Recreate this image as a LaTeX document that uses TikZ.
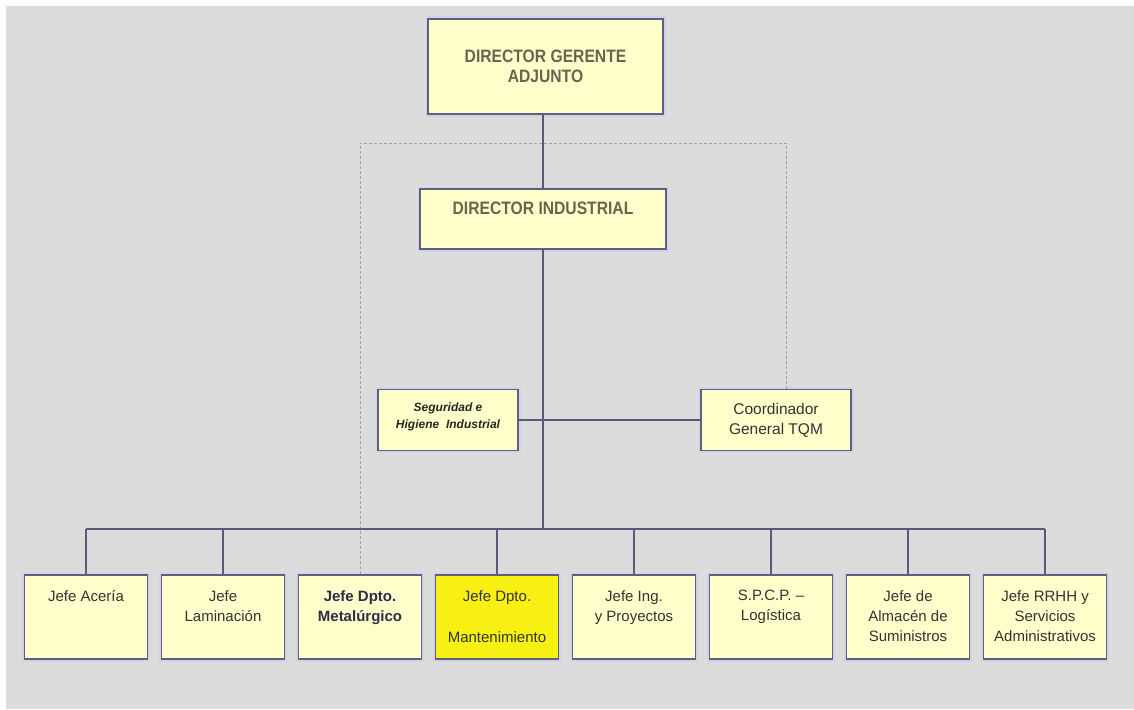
\documentclass[tikz,border=0pt]{standalone}
\usepackage{fontspec}
\setmainfont{Liberation Sans}
\newfontfamily\hdfont[FakeStretch=0.87]{Liberation Sans}
\definecolor{bg}{HTML}{DCDCDC}
\definecolor{boxfill}{HTML}{FFFFCC}
\definecolor{hifill}{HTML}{F8F012}
\definecolor{boxline}{HTML}{5F5F80}
\definecolor{connline}{HTML}{5A5A78}
\definecolor{dashline}{HTML}{A0A0A8}
\definecolor{glow}{HTML}{D2D2E6}
\definecolor{hdtext}{HTML}{66664F}
\definecolor{bodytext}{HTML}{333333}
\definecolor{darktext}{HTML}{2D2D48}
\begin{document}
\begin{tikzpicture}[x=1pt,y=-1pt,
  box/.style={draw=boxline, line width=1.8pt, fill=boxfill, inner sep=0pt,
    preaction={draw=glow, line width=5pt}},
  bbox/.style={box, minimum width=123pt, minimum height=84pt},
  hd/.style={font=\hdfont\bfseries\fontsize{18}{20.5}\selectfont, text=hdtext, align=center, inner sep=0pt},
  btxt/.style={font=\fontsize{15}{20}\selectfont, text=bodytext, align=center, inner sep=0pt, anchor=north},
  conn/.style={draw=connline, line width=1.6pt},
  dashconn/.style={draw=dashline, line width=0.8pt, dash pattern=on 3pt off 2pt}]
\useasboundingbox (0,0) rectangle (1134,709);
\fill[white] (0,0) rectangle (1134,709);
\fill[bg] (6,6) rectangle (1134,709);

% top boxes
\node[box, minimum width=235pt, minimum height=95pt, hd] (dga) at (545.5,66.5) {DIRECTOR GERENTE\\ADJUNTO};
\node[box, minimum width=246pt, minimum height=60pt] (di) at (543,219) {};
\node[hd, anchor=north] (dit) at ([yshift=-14pt]di.north) {DIRECTOR INDUSTRIAL};

% middle boxes
\node[box, minimum width=140pt, minimum height=61pt] (seg) at (448,420) {};
\node[font=\bfseries\itshape\fontsize{12}{17}\selectfont, text=black!85, align=center, inner sep=0pt] (segt) at ([yshift=3pt]seg.center) {Seguridad e\\Higiene\ \ Industrial};
\node[box, minimum width=150pt, minimum height=61pt, font=\fontsize{15.5}{20}\selectfont, text=bodytext, align=center] (coord) at (776,420) {Coordinador\\General TQM};

% bottom boxes
\node[bbox] (b1) at (86,617) {};
\node[bbox] (b2) at (223,617) {};
\node[bbox] (b3) at (360,617) {};
\node[bbox, fill=hifill] (b4) at (497,617) {};
\node[bbox] (b5) at (634,617) {};
\node[bbox] (b6) at (771,617) {};
\node[bbox] (b7) at (908,617) {};
\node[bbox] (b8) at (1045,617) {};

\node[btxt] (t1) at ([yshift=-16pt]b1.north) {Jefe Acería};
\node[btxt] (t2) at ([yshift=-16pt]b2.north) {Jefe\\Laminación};
\node[btxt, font=\bfseries\fontsize{15}{20}\selectfont, text=darktext] (t3) at ([yshift=-16pt]b3.north) {Jefe Dpto.\\Metalúrgico};
\node[btxt] (t4) at ([yshift=-16pt]b4.north) {Jefe Dpto.\\[21pt]Mantenimiento};
\node[btxt] (t5) at ([yshift=-16pt]b5.north) {Jefe Ing.\\y Proyectos};
\node[btxt] (t6) at ([yshift=-16pt]b6.north) {S.P.C.P. –\\Logística};
\node[btxt] (t7) at ([yshift=-16pt]b7.north) {Jefe de\\Almacén de\\Suministros};
\node[btxt] (t8) at ([yshift=-16pt]b8.north) {Jefe RRHH y\\Servicios\\Administrativos};

% connectors
\coordinate (busy) at (0,529);
\coordinate (dr) at (786,143);
\draw[dashconn] (b3.north) -- (b3.north |- dr) -- (dr) -- (dr |- coord.north);
\draw[conn] (di.north |- dga.south) -- (di.north);
\draw[conn] (di.south) -- (di.south |- busy);
\draw[conn] (seg.east) -- (coord.west);
\draw[conn] (b1.north |- busy) -- (b8.north |- busy);
\foreach \i in {1,2,4,5,6,7,8} {
  \draw[conn] (b\i.north |- busy) -- (b\i.north);
}
\end{tikzpicture}
\end{document}
